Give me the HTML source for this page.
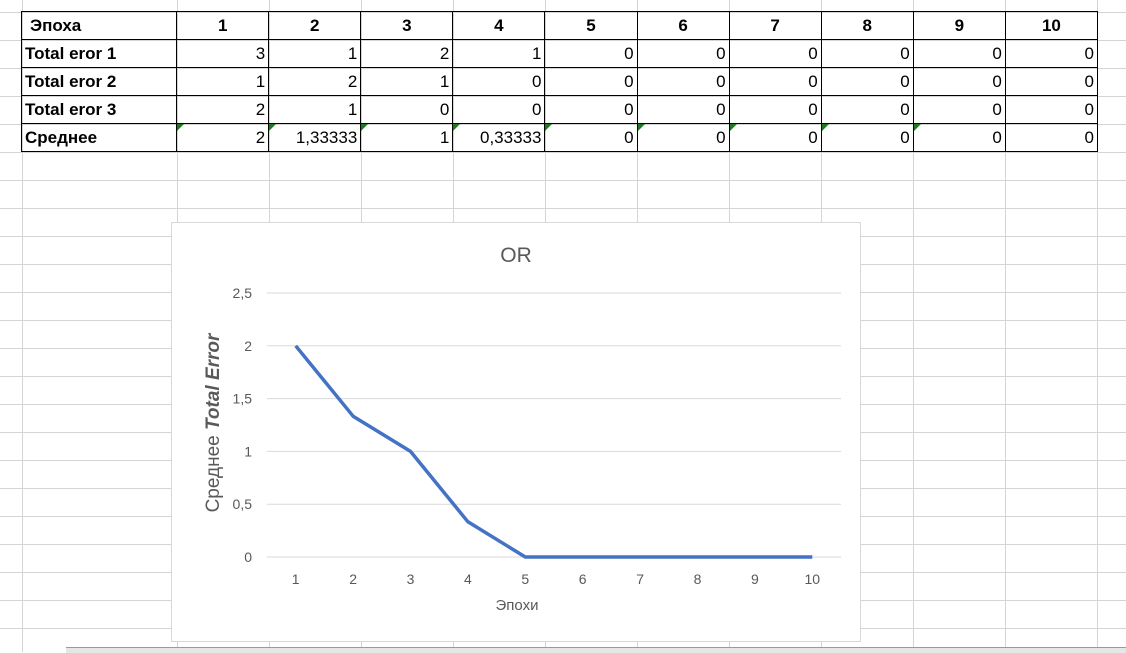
<!DOCTYPE html>
<html><head><meta charset="utf-8"><style>
body{margin:0;width:1126px;height:652px;overflow:hidden;background:#fff;font-family:"Liberation Sans","Noto Sans CJK SC",sans-serif;position:relative}
.g{position:absolute;background:#d4d4d4}
table{position:absolute;left:21px;top:11px;border-collapse:collapse;table-layout:fixed;width:1077px;font-size:17px;color:#000}
td{border:1.5px solid #000;height:28px;padding:0 3px;text-align:right;position:relative;box-sizing:border-box;white-space:nowrap}
td.l{text-align:left;font-weight:bold;padding-left:3px}
tr.h td{font-weight:bold;text-align:center}
tr.h td.l{text-align:left;padding-left:8px}
.tri{position:absolute;left:0;top:0;width:0;height:0;border-top:7px solid #1e7a1e;border-right:7px solid transparent}
</style></head><body>
<div id="grid"></div>
<table>
<colgroup><col style="width:155px"><col style="width:92px"><col style="width:92px"><col style="width:92px"><col style="width:92px"><col style="width:92px"><col style="width:92px"><col style="width:92px"><col style="width:92px"><col style="width:92px"><col style="width:92px"></colgroup>
<tr class="h"><td class="l">Эпоха</td><td>1</td><td>2</td><td>3</td><td>4</td><td>5</td><td>6</td><td>7</td><td>8</td><td>9</td><td>10</td></tr>
<tr><td class="l">Total eror 1</td><td>3</td><td>1</td><td>2</td><td>1</td><td>0</td><td>0</td><td>0</td><td>0</td><td>0</td><td>0</td></tr>
<tr><td class="l">Total eror 2</td><td>1</td><td>2</td><td>1</td><td>0</td><td>0</td><td>0</td><td>0</td><td>0</td><td>0</td><td>0</td></tr>
<tr><td class="l">Total eror 3</td><td>2</td><td>1</td><td>0</td><td>0</td><td>0</td><td>0</td><td>0</td><td>0</td><td>0</td><td>0</td></tr>
<tr><td class="l">Среднее</td><td><i class="tri"></i>2</td><td><i class="tri"></i>1,33333</td><td><i class="tri"></i>1</td><td><i class="tri"></i>0,33333</td><td><i class="tri"></i>0</td><td><i class="tri"></i>0</td><td><i class="tri"></i>0</td><td><i class="tri"></i>0</td><td><i class="tri"></i>0</td><td>0</td></tr>
</table>
<svg id="chart" style="position:absolute;left:0;top:0" width="1126" height="652"></svg>
<div style="position:absolute;left:66px;top:647px;width:1060px;height:5px;background:#e6e6e6;border-top:1px solid #9a9a9a"></div>
<script>
const categories=[1,2,3,4,5,6,7,8,9,10];
const values=[2,1.33333,1,0.33333,0,0,0,0,0,0];
const yTicks=[0,0.5,1,1.5,2,2.5];
const yTickLabels=["0","0,5","1","1,5","2","2,5"];

const grid=document.getElementById('grid');
for(let y=12;y<652;y+=28){const d=document.createElement('div');d.className='g';d.style.cssText=`left:0;top:${y}px;width:1126px;height:1px`;grid.appendChild(d);}
[22,177,269,361,453,545,637,729,821,913,1005,1097].forEach(x=>{const d=document.createElement('div');d.className='g';d.style.cssText=`left:${x}px;top:0;width:1px;height:652px`;grid.appendChild(d);});

const svg=document.getElementById('chart');const NS='http://www.w3.org/2000/svg';
function mk(t,a,txt){const e=document.createElementNS(NS,t);for(const k in a)e.setAttribute(k,a[k]);if(txt!==undefined)e.textContent=txt;svg.appendChild(e);return e;}
const pL=267,pR=841,pT=293,pB=557,yMax=2.5;
const xs=i=>pL+(pR-pL)/categories.length*(i+0.5);
const ys=v=>pB-(v/yMax)*(pB-pT);
let e=mk('rect',{x:171.5,y:222.5,width:689,height:419,fill:'#fff',stroke:'#d9d9d9'});

e=mk('text',{x:516,y:262,'font-size':21,fill:'#595959','text-anchor':'middle'},'OR');

yTicks.forEach((t,i)=>{
 e=mk('line',{x1:pL,x2:pR,y1:ys(t),y2:ys(t),stroke:'#d9d9d9','stroke-width':1});
 
 e=mk('text',{x:252,y:ys(t)+5,'font-size':14,fill:'#595959','text-anchor':'end'},yTickLabels[i]);
 
});
categories.forEach((c,i)=>{
 e=mk('text',{x:xs(i),y:584,'font-size':14,fill:'#595959','text-anchor':'middle'},String(c));
 
});
e=mk('text',{x:517,y:610,'font-size':15,fill:'#595959','text-anchor':'middle'},'Эпохи');

e=mk('text',{x:0,y:0,'font-size':19,fill:'#595959','text-anchor':'middle',transform:'translate(219,423) rotate(-90)'});

e.innerHTML='Среднее <tspan font-weight="bold" font-style="italic">Total Error</tspan>';
e=mk('polyline',{points:values.map((v,i)=>xs(i)+','+ys(v)).join(' '),fill:'none',stroke:'#4472c4','stroke-width':3.5,'stroke-linejoin':'round'});

</script>
</body></html>
